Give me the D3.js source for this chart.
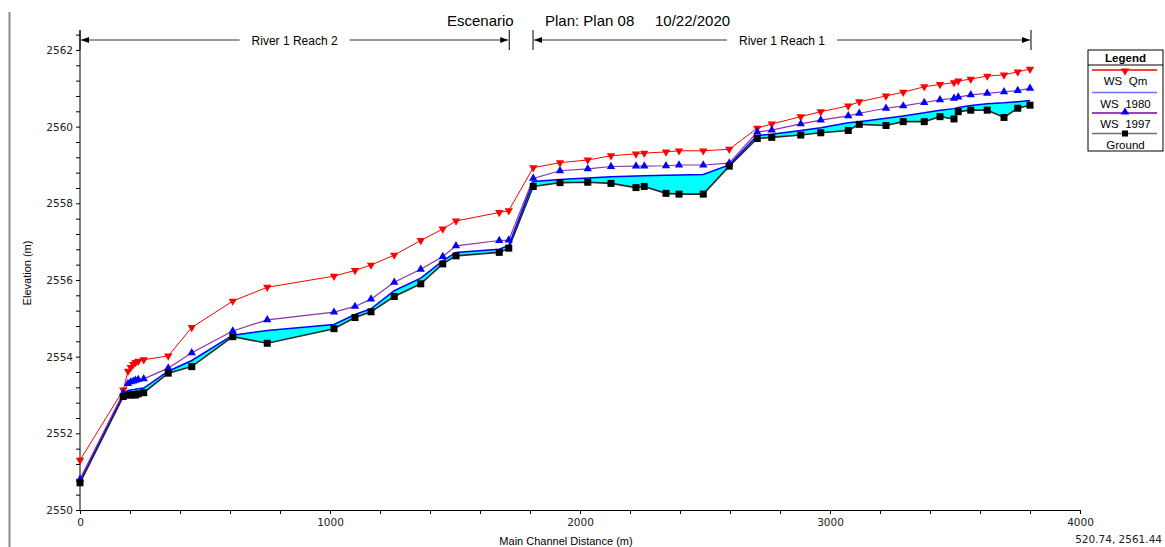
<!DOCTYPE html>
<html>
<head>
<meta charset="utf-8">
<script src="https://cdn.jsdelivr.net/npm/d3@7"></script>
<style>
  html, body { margin: 0; padding: 0; background: #fff; }
  svg { display: block; }
  text { font-family: "Liberation Sans", Arial, sans-serif; fill: #000; }
  .tick-label { font-family: "DejaVu Sans", Verdana, sans-serif; font-size: 10.5px; fill: #222; }
</style>
</head>
<body>
<svg id="chart" width="1165" height="547"></svg>
<script>
// Main channel stations (m) along the profile
const stations = [
  0, 173, 192, 203, 213, 222, 233, 255, 353, 447, 611, 749, 1016, 1100, 1164,
  1257, 1363, 1451, 1504, 1677, 1715,
  1813, 1920, 2031, 2124, 2224, 2257, 2344, 2396, 2493, 2597, 2709, 2767, 2883,
  2963, 3073, 3117, 3224, 3293, 3377, 3440, 3496, 3513, 3563, 3629, 3696, 3751, 3800
];
// Channel invert (m)
const ground = [
  2550.71, 2552.96, 2553.00, 2553.00, 2553.01, 2553.00, 2553.03, 2553.06, 2553.57, 2553.74,
  2554.52, 2554.35, 2554.73, 2555.02, 2555.17, 2555.57, 2555.90, 2556.42, 2556.63, 2556.72, 2556.83,
  2558.44, 2558.54, 2558.55, 2558.52, 2558.41, 2558.44, 2558.26, 2558.24, 2558.24, 2558.97,
  2559.69, 2559.72, 2559.78, 2559.84, 2559.90, 2560.06, 2560.03, 2560.13, 2560.13, 2560.26,
  2560.20, 2560.39, 2560.43, 2560.43, 2560.24, 2560.48, 2560.56
];
// Water surface, 1980 profile
const ws1980 = [
  2550.78, 2553.02, 2553.12, 2553.13, 2553.14, 2553.15, 2553.16, 2553.18, 2553.62, 2553.90,
  2554.56, 2554.68, 2554.84, 2555.10, 2555.25, 2555.72, 2556.05, 2556.50, 2556.72, 2556.80, 2556.90,
  2558.57, 2558.62, 2558.66, 2558.69, 2558.71, 2558.72, 2558.73, 2558.74, 2558.75, 2559.00,
  2559.77, 2559.80, 2559.90, 2559.97, 2560.10, 2560.13, 2560.22, 2560.28, 2560.36, 2560.43,
  2560.47, 2560.50, 2560.55, 2560.60, 2560.62, 2560.65, 2560.68
];
// Water surface, 1997 profile
const ws1997 = [
  2550.80, 2553.05, 2553.30, 2553.34, 2553.36, 2553.38, 2553.40, 2553.42, 2553.70, 2554.10,
  2554.67, 2554.96, 2555.16, 2555.31, 2555.50, 2555.94, 2556.28, 2556.61, 2556.89, 2557.03, 2557.04,
  2558.65, 2558.85, 2558.90, 2558.96, 2558.97, 2558.97, 2558.98, 2559.00, 2559.00, 2559.05,
  2559.86, 2559.91, 2560.07, 2560.17, 2560.28, 2560.35, 2560.48, 2560.54, 2560.63, 2560.70,
  2560.74, 2560.77, 2560.83, 2560.87, 2560.91, 2560.94, 2561.00
];
// Water surface, Qm profile
const wsQm = [
  2551.30, 2553.13, 2553.62, 2553.72, 2553.80, 2553.85, 2553.88, 2553.92, 2554.02, 2554.76,
  2555.45, 2555.81, 2556.10, 2556.25, 2556.39, 2556.65, 2557.03, 2557.33, 2557.54, 2557.76, 2557.81,
  2558.93, 2559.06, 2559.13, 2559.24, 2559.29, 2559.31, 2559.34, 2559.37, 2559.37, 2559.41,
  2559.96, 2560.07, 2560.26, 2560.39, 2560.54, 2560.65, 2560.80, 2560.90, 2561.04, 2561.10,
  2561.15, 2561.19, 2561.24, 2561.32, 2561.35, 2561.43, 2561.50
];
// Reach extents (m)
const reachNames = ["River 1 Reach 2", "River 1 Reach 1"];
const reachStart = [0, 1812];
const reachEnd = [1717, 3804];

const xTickLabels = [0, 1000, 2000, 3000, 4000];
const yTickLabels = [2550, 2552, 2554, 2556, 2558, 2560, 2562];
const legendLabels = ["WS  Qm", "WS  1980", "WS  1997", "Ground"];

const svg = d3.select("#chart");
const x = d3.scaleLinear().domain([0, 4000]).range([80, 1080]);
const y = d3.scaleLinear().domain([2550, 2562.5]).range([510, 30.8]);

// Left frame rule
svg.append("line").attr("x1", 9.5).attr("x2", 9.5).attr("y1", 12).attr("y2", 547)
  .attr("stroke", "#8c8c8c").attr("stroke-width", 2);

// Title
const title = svg.append("text").attr("y", 26).attr("font-size", 15);
title.append("tspan").attr("x", 447).text("Escenario");
title.append("tspan").attr("x", 545).text("Plan: Plan 08");
title.append("tspan").attr("x", 655).text("10/22/2020");

// Reach extent markers
const defs = svg.append("defs");
defs.append("marker").attr("id", "arrow").attr("viewBox", "0 0 8 6")
  .attr("refX", 8).attr("refY", 3).attr("markerWidth", 8).attr("markerHeight", 6)
  .attr("markerUnits", "userSpaceOnUse").attr("orient", "auto")
  .append("path").attr("d", "M0,0 L8,3 L0,6 Z").attr("fill", "#000");

reachNames.forEach((name, i) => {
  const x0 = x(reachStart[i]), x1 = x(reachEnd[i]);
  const g = svg.append("g");
  g.append("line").attr("x1", x0).attr("x2", x0).attr("y1", 30).attr("y2", 50)
    .attr("stroke", "#000").attr("stroke-width", 1);
  g.append("line").attr("x1", x1).attr("x2", x1).attr("y1", 30).attr("y2", 50)
    .attr("stroke", "#000").attr("stroke-width", 1);
  const t = g.append("text").attr("x", (x0 + x1) / 2).attr("y", 44.5)
    .attr("text-anchor", "middle").attr("font-size", 12).attr("fill", "#111").text(name);
  const w = t.node().getComputedTextLength();
  const cx = (x0 + x1) / 2;
  g.append("line").attr("x1", cx - w / 2 - 12).attr("x2", x0 + 1).attr("y1", 40).attr("y2", 40)
    .attr("stroke", "#333").attr("stroke-width", 1).attr("marker-end", "url(#arrow)");
  g.append("line").attr("x1", cx + w / 2 + 12).attr("x2", x1 - 1).attr("y1", 40).attr("y2", 40)
    .attr("stroke", "#333").attr("stroke-width", 1).attr("marker-end", "url(#arrow)");
});

// Axes
const xAxis = d3.axisBottom(x).tickValues(d3.range(0, 4001, 200))
  .tickSize(4).tickFormat(d => xTickLabels.includes(d) ? d : "");
const gx = svg.append("g").attr("transform", "translate(0,510)").call(xAxis);
gx.select(".domain").attr("stroke", "#000");
gx.selectAll("text").attr("class", "tick-label").attr("dy", "0.9em");

const yAxis = d3.axisLeft(y).tickValues(d3.range(0, 32).map(i => 2550 + i * 0.4))
  .tickSize(4).tickFormat(d => {
    const r = Math.round(d * 10) / 10;
    return yTickLabels.includes(r) ? r : "";
  });
const gy = svg.append("g").attr("transform", "translate(80,0)").call(yAxis);
gy.select(".domain").attr("stroke", "#000").attr("d", `M-0,${y(2550)}V30`);
gy.selectAll("text").attr("class", "tick-label").attr("x", -7);

svg.selectAll(".tick line").attr("stroke", "#000");

// Axis titles
svg.append("text").attr("x", 566).attr("y", 545).attr("text-anchor", "middle")
  .attr("font-size", 11).text("Main Channel Distance (m)");
svg.append("text").attr("transform", "translate(31,273) rotate(-90)")
  .attr("text-anchor", "middle").attr("font-size", 11).text("Elevation (m)");
svg.append("text").attr("x", 1162).attr("y", 543).attr("text-anchor", "end")
  .attr("class", "tick-label").text("520.74, 2561.44");

// Profile data
const rows = stations.map((s, i) => ({ s, g: ground[i], a: ws1980[i], b: ws1997[i], q: wsQm[i] }));

const area = d3.area().x(d => x(d.s)).y0(d => y(d.g)).y1(d => y(d.a));
svg.append("path").datum(rows).attr("d", area).attr("fill", "#00ffff");

const lineOf = key => d3.line().x(d => x(d.s)).y(d => y(d[key]));

svg.append("path").datum(rows).attr("d", lineOf("g"))
  .attr("fill", "none").attr("stroke", "#2a2a2a").attr("stroke-width", 1.6);
svg.append("path").datum(rows).attr("d", lineOf("a"))
  .attr("fill", "none").attr("stroke", "#0000ff").attr("stroke-width", 1.5);
svg.append("path").datum(rows).attr("d", lineOf("b"))
  .attr("fill", "none").attr("stroke", "#9030a8").attr("stroke-width", 1.2);
svg.append("path").datum(rows).attr("d", lineOf("q"))
  .attr("fill", "none").attr("stroke", "#ff0000").attr("stroke-width", 1);

const tri = d3.symbol().type(d3.symbolTriangle).size(30);
svg.append("g").selectAll("path").data(rows).join("path")
  .attr("d", tri).attr("fill", "#ff0000")
  .attr("transform", d => `translate(${x(d.s)},${y(d.q)}) rotate(180)`);
svg.append("g").selectAll("path").data(rows).join("path")
  .attr("d", tri).attr("fill", "#0000ff")
  .attr("transform", d => `translate(${x(d.s)},${y(d.b)})`);
svg.append("g").selectAll("rect").data(rows).join("rect")
  .attr("x", d => x(d.s) - 3.5).attr("y", d => y(d.g) - 3.5)
  .attr("width", 7).attr("height", 7).attr("fill", "#000");

// Legend
const lg = svg.append("g");
lg.append("rect").attr("x", 1088).attr("y", 50).attr("width", 75).attr("height", 101)
  .attr("fill", "#fff").attr("stroke", "#000").attr("stroke-width", 1);
lg.append("line").attr("x1", 1088).attr("x2", 1163).attr("y1", 65).attr("y2", 65)
  .attr("stroke", "#000");
lg.append("text").attr("x", 1125.5).attr("y", 62).attr("text-anchor", "middle")
  .attr("font-size", 11.5).attr("font-weight", "bold").text("Legend");
const legendColors = ["#ff0000", "#6f6fff", "#7a00a8", "#707070"];
const lineY = [70, 92.5, 113, 133.5];
legendLabels.forEach((lab, i) => {
  lg.append("line").attr("x1", 1092).attr("x2", 1157).attr("y1", lineY[i]).attr("y2", lineY[i])
    .attr("stroke", legendColors[i]).attr("stroke-width", 1.3);
  lg.append("text").attr("x", 1125.5).attr("y", lineY[i] + 15).attr("text-anchor", "middle")
    .attr("font-size", 11.5).attr("fill", "#111").style("white-space", "pre").text(lab);
});
lg.append("path").attr("d", tri).attr("fill", "#ff0000")
  .attr("transform", `translate(1125,${lineY[0] + 1}) rotate(180)`);
lg.append("path").attr("d", tri).attr("fill", "#0000ff")
  .attr("transform", `translate(1125,${lineY[2] - 1})`);
lg.append("rect").attr("x", 1122).attr("y", lineY[3] - 3).attr("width", 6).attr("height", 6)
  .attr("fill", "#000");
</script>
</body>
</html>
